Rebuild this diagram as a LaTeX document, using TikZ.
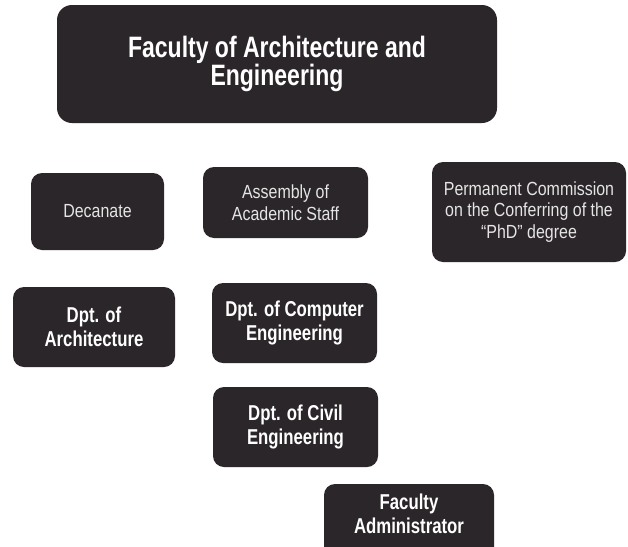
\documentclass[tikz,border=0pt]{standalone}
\usepackage{fontspec}
\usepackage{xcolor}
\newfontfamily\boxfont[UprightFeatures={FakeStretch=0.84},BoldFeatures={FakeStretch=0.78}]{Liberation Sans}
\definecolor{boxgray}{HTML}{2B2629}
\usetikzlibrary{positioning}

\begin{document}
\begin{tikzpicture}[x=1pt, y=-1pt,
  unit/.style={rectangle, rounded corners=11pt, fill=boxgray, text=white, align=center, inner sep=0pt},
  plain/.style={unit, text=white!90!black, font={\boxfont\fontsize{19}{21.5}\selectfont\lineskiplimit=-20pt\relax}},
  dept/.style={unit, font={\boxfont\bfseries\fontsize{21.5}{24}\selectfont\lineskiplimit=-20pt\relax}},
  head/.style={unit, rounded corners=15pt, font={\boxfont\bfseries\fontsize{29.5}{27.5}\selectfont\lineskiplimit=-20pt\relax}}]
%%%%% Frame %%%%%
\useasboundingbox (0,0) rectangle (628,546);
\fill[white] (0,0) rectangle (628,546);
%%%%% Faculty %%%%%
\node[head, minimum width=440pt, minimum height=118pt] (fac) at (277,64) {Faculty of Architecture and\\Engineering};
%%%%% Bodies %%%%%
\node[plain, minimum width=133pt, minimum height=77pt] (dec) at (97.5,211.5) {Decanate};
\node[plain, minimum width=165pt, minimum height=71pt] (asm) at (285.5,202.5) {Assembly of\\Academic Staff};
\node[plain, minimum width=194pt, minimum height=100pt] (perm) at (529,212) {Permanent Commission\\on the Conferring of the\\“PhD” degree};
%%%%% Departments %%%%%
\node[dept, minimum width=162pt, minimum height=80pt] (arch) at (94,327) {Dpt. of\\Architecture};
\node[dept, minimum width=165pt, minimum height=80pt] (comp) at (294.5,323) {Dpt. of Computer\\Engineering};
\node[dept, minimum width=165pt, minimum height=80pt] (civ) at (295.5,427) {Dpt. of Civil\\Engineering};
\node[dept, minimum width=170pt, minimum height=80pt] (adm) at (409,524) {Faculty\\Administrator\rule[-20pt]{0pt}{1pt}};
\end{tikzpicture}
\end{document}
